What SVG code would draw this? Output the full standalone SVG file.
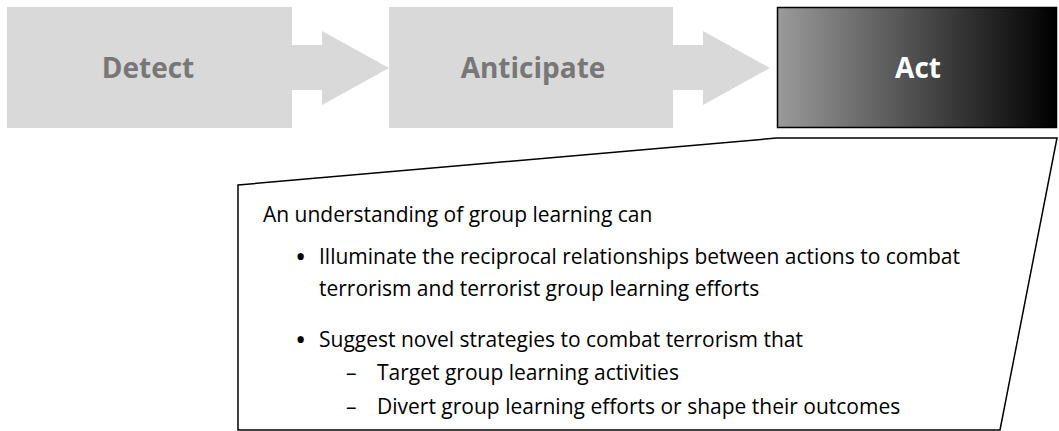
<svg xmlns="http://www.w3.org/2000/svg" width="1059" height="431" viewBox="0 0 1059 431">
<style>
.stage{fill:#d9d9d9}
.lbl{font-family:"Open Sans","Liberation Sans",sans-serif;font-weight:bold;font-size:28px;text-anchor:middle}
.gray{fill:#777}
.body{font-family:"Open Sans","Liberation Sans",sans-serif;font-size:21px;fill:#000}
.bul{font-family:"Open Sans","Liberation Sans",sans-serif;font-size:30px;fill:#000}
.line{fill:none;stroke:#000;stroke-width:1.5}
</style>
<defs>
<linearGradient id="actGrad" x1="0" y1="0" x2="1" y2="0">
<stop offset="0" stop-color="#9a9a9a"/>
<stop offset="1" stop-color="#000"/>
</linearGradient>
</defs>
<g id="connectors">
<polygon class="stage" points="292,45 322,45 322,31 389,68 322,105 322,90 292,90"/>
<polygon class="stage" points="673,45 703,45 703,31 770,68 703,105 703,90 673,90"/>
</g>
<g id="detect">
<rect class="stage" x="7" y="7" width="285" height="121"/>
<text class="lbl gray" x="148" y="78">Detect</text>
</g>
<g id="anticipate">
<rect class="stage" x="389" y="7" width="284" height="121"/>
<text class="lbl gray" x="533" y="78">Anticipate</text>
</g>
<g id="act">
<rect x="777.5" y="7.5" width="279" height="120" fill="url(#actGrad)" stroke="#000" stroke-width="1.5"/>
<text class="lbl" fill="#fff" x="918" y="78">Act</text>
</g>
<g id="callout">
<polygon class="line" points="238,185 777,138 1057,138 1000,430 238,430"/>
<text class="body" x="263" y="222">An understanding of group learning can</text>
<text class="bul" x="295" y="267">•</text>
<text class="body" x="319" y="264">Illuminate the reciprocal relationships between actions to combat</text>
<text class="body" x="319" y="296">terrorism and terrorist group learning efforts</text>
<text class="bul" x="295" y="350">•</text>
<text class="body" x="319" y="347">Suggest novel strategies to combat terrorism that</text>
<text class="body" x="346" y="380">–</text>
<text class="body" x="377" y="380">Target group learning activities</text>
<text class="body" x="346" y="414">–</text>
<text class="body" x="377" y="414">Divert group learning efforts or shape their outcomes</text>
</g>
</svg>
